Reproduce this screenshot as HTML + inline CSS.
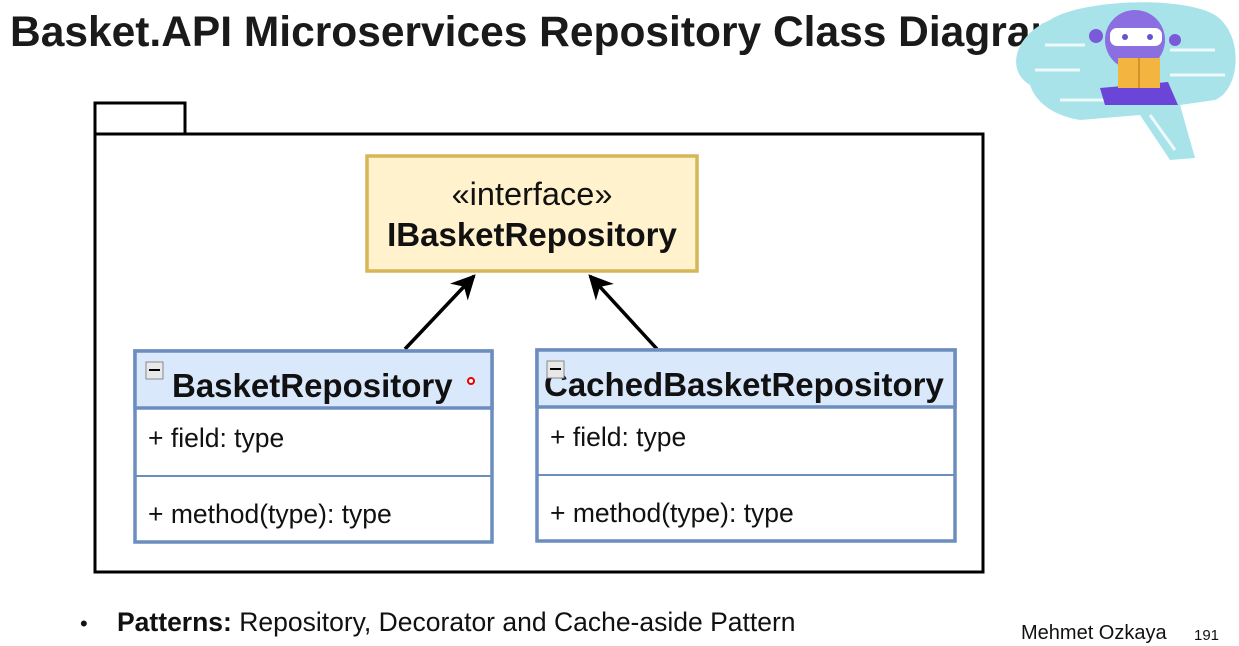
<!DOCTYPE html>
<html><head><meta charset="utf-8"><style>
html,body{margin:0;padding:0;background:#fff;}
body{width:1239px;height:646px;position:relative;overflow:hidden;font-family:"Liberation Sans",Arial,sans-serif;}
</style></head><body>
<svg width="1239" height="646" viewBox="0 0 1239 646" xmlns="http://www.w3.org/2000/svg" style="position:absolute;left:0;top:0;font-family:'Liberation Sans',Arial,sans-serif">
<defs>
<marker id="ah" viewBox="0 0 10 10" refX="9" refY="5" markerWidth="7" markerHeight="7" orient="auto">
<path d="M0,0 L10,5 L0,10 L3,5 z" fill="#000"/>
</marker>
</defs>
<text x="10" y="46" font-size="42.5" font-weight="bold" fill="#1a1a1a">Basket.API Microservices Repository Class Diagram</text>
<!-- package -->
<rect x="95" y="103" width="90" height="31" fill="#fff" stroke="#000" stroke-width="3"/>
<rect x="95" y="134" width="888" height="438" fill="#fff" stroke="#000" stroke-width="3"/>
<!-- interface -->
<rect x="367" y="156" width="330" height="115" fill="#fff2cc" stroke="#d6b656" stroke-width="3.5"/>
<text x="532" y="205" font-size="32.5" text-anchor="middle" fill="#111">«interface»</text>
<text x="532" y="246" font-size="33" font-weight="bold" text-anchor="middle" fill="#111">IBasketRepository</text>
<!-- arrows -->
<line x1="405" y1="349" x2="474" y2="276" stroke="#000" stroke-width="3.5" marker-end="url(#ah)"/>
<line x1="657" y1="349" x2="590" y2="276" stroke="#000" stroke-width="3.5" marker-end="url(#ah)"/>
<!-- BasketRepository -->
<rect x="135" y="351" width="357" height="191" fill="#fff" stroke="#6c8ebf" stroke-width="3.5"/>
<rect x="135" y="351" width="357" height="57" fill="#dae8fc" stroke="#6c8ebf" stroke-width="3.5"/>
<line x1="135" y1="476" x2="492" y2="476" stroke="#6c8ebf" stroke-width="2"/>
<rect x="146" y="362" width="17" height="17" fill="#e8e8e8" stroke="#888" stroke-width="1"/>
<line x1="149" y1="370" x2="160" y2="370" stroke="#000" stroke-width="2"/>
<text x="172" y="397" font-size="33" font-weight="bold" fill="#111">BasketRepository</text>
<circle cx="471" cy="381" r="3" fill="#fff" stroke="#e00" stroke-width="2"/>
<text x="148" y="447" font-size="26.5" fill="#111">+ field: type</text>
<text x="148" y="523" font-size="26.5" fill="#111">+ method(type): type</text>
<!-- Cached -->
<rect x="537" y="350" width="418" height="191" fill="#fff" stroke="#6c8ebf" stroke-width="3.5"/>
<rect x="537" y="350" width="418" height="57" fill="#dae8fc" stroke="#6c8ebf" stroke-width="3.5"/>
<line x1="537" y1="475" x2="955" y2="475" stroke="#6c8ebf" stroke-width="2"/>
<text x="544" y="396" font-size="33" font-weight="bold" fill="#111">CachedBasketRepository</text>
<rect x="547" y="361" width="17" height="17" fill="#e8e8e8" stroke="#888" stroke-width="1"/>
<line x1="550" y1="369" x2="561" y2="369" stroke="#000" stroke-width="2"/>
<text x="550" y="446" font-size="26.5" fill="#111">+ field: type</text>
<text x="550" y="522" font-size="26.5" fill="#111">+ method(type): type</text>
<!-- footer -->
<text x="80" y="631" font-size="22" fill="#111">•</text>
<text x="117" y="631" font-size="26.5" fill="#111"><tspan font-weight="bold">Patterns:</tspan> Repository, Decorator and Cache-aside Pattern</text>
<text x="1021" y="639" font-size="20" fill="#111">Mehmet Ozkaya</text>
<text x="1194" y="640" font-size="15" fill="#111">191</text>
<!-- logo -->
<g>
<path d="M1050,20 C1080,0 1180,-5 1215,15 C1245,35 1240,90 1215,100 L1180,105 L1195,158 L1170,160 L1140,115 L1080,120 C1050,115 1035,100 1030,85 C1005,70 1015,35 1050,20 z" fill="#a8e3ea"/>
<g stroke="#fff" stroke-width="3" fill="none" opacity="0.8">
<path d="M1045,45 H1085"/><path d="M1035,70 H1080"/><path d="M1060,100 H1110"/><path d="M1170,75 H1225"/><path d="M1170,50 H1215"/><path d="M1150,115 L1175,150"/>
</g>
<circle cx="1135" cy="40" r="30" fill="#8b6fe0"/>
<rect x="1110" y="28" width="52" height="18" rx="7" fill="#fff"/>
<circle cx="1125" cy="37" r="3" fill="#6a4fd0"/><circle cx="1150" cy="37" r="3" fill="#6a4fd0"/>
<circle cx="1096" cy="36" r="7" fill="#7a5ad8"/>
<circle cx="1175" cy="40" r="6" fill="#7a5ad8"/>
<path d="M1100,88 L1168,82 L1178,105 L1105,105 z" fill="#6a45d8"/>
<rect x="1118" y="58" width="42" height="30" fill="#f3b53f"/>
<line x1="1139" y1="58" x2="1139" y2="88" stroke="#d8902a" stroke-width="2"/>
</g>
</svg>
</body></html>
